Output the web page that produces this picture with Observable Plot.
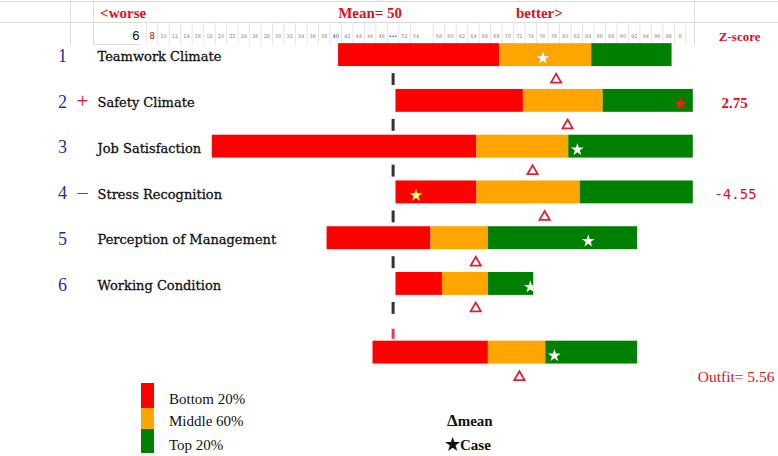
<!DOCTYPE html>
<html>
<head>
<meta charset="utf-8">
<script src="https://cdn.jsdelivr.net/npm/d3@7"></script>
<script src="https://cdn.jsdelivr.net/npm/@observablehq/plot@0.6"></script>
<style>
  body { margin: 0; background: #fff; }
  #wrap { position: relative; width: 778px; height: 456px; overflow: hidden; background: #fff; }
  #chart { position: absolute; left: 0; top: 0; }
  .gl { position: absolute; background: #dcdcdc; }
  #legend { position: absolute; left: 0; top: 383px; width: 778px; height: 73px; font-family: "Liberation Serif", serif; color: #111; }
  #legend .sw { position: absolute; left: 141px; width: 13px; }
  #legend .lb { position: absolute; left: 169px; font-size: 15px; line-height: 18px; }
  #legend .sym { position: absolute; font-size: 15px; font-weight: bold; line-height: 18px; }
</style>
</head>
<body>
<div id="wrap">
  <div id="chart"></div>
  <div class="gl" style="left:0;top:1px;width:778px;height:1px"></div>
  <div class="gl" style="left:0;top:22px;width:778px;height:1px"></div>
  <div class="gl" style="left:70px;top:0;width:1px;height:45px"></div>
  <div class="gl" style="left:93px;top:0;width:1px;height:45px"></div>
  <div class="gl" style="left:694px;top:0;width:1px;height:45px"></div>
  <div class="gl" style="left:93px;top:44px;width:47px;height:1px"></div>
  <div id="legend"></div>
</div>
<script>
// ---------------- data ----------------
const categories = ["Teamwork Climate", "Safety Climate", "Job Satisfaction",
  "Stress Recognition", "Perception of Management", "Working Condition"];
const flags      = ["", "+", "", "\u2013", "", ""];
const barStart   = [40.5, 50.5, 18.5, 50.5, 38.5, 50.5];
const bottom20   = [68.6, 72.7, 64.6, 64.6, 56.6, 58.6];
const top20      = [84.6, 86.6, 80.6, 82.6, 66.6, 66.6];
const barEnd     = [98.6, 102.3, 102.3, 102.3, 92.6, 74.5];
const caseScore  = [76.1, 100.1, 82.1, 54.0, 84.0, 73.9];
const meanScore  = [78.4, 80.4, 74.3, 76.4, 64.4, 64.4];
const zScores    = [null, 2.75, null, -4.55, null, null];

const overallBar  = [46.5, 66.6, 76.6, 92.6];
const overallCase = 78.1;
const overallMean = 72.0;
const outfit      = 5.56;
const referenceMean = 50;

const tickValues = [6, 8, 10, 12, 14, 16, 18, 20, 22, 24, 26, 28, 30, 32, 34, 36, 38, 40,
  42, 44, 46, 48, 50, 52, 54, 58, 60, 62, 64, 66, 68, 70, 72, 74, 76, 78, 80, 82, 84,
  86, 88, 90, 92, 94, 96, 98, 100];
const tickLabels = tickValues.map(v => v === 50 ? "\u2022\u2022\u2022" : v === 100 ? "0" : String(v));

const segmentNames = ["Bottom 20%", "Middle 60%", "Top 20%"];
const segmentColors = ["#ff0000", "#ffa500", "#008000"];

// ---------------- layout constants ----------------
const W = 778, H = 395;
const SUMMARY_ROW = categories.length + 1.5;
const GAP = 0.535;        // offset (rows) of the mean marker below a bar
const HALF = 0.25;        // half bar thickness (rows)
const red = "#e0101a";

// ---------------- derived tables ----------------
const rows = categories.map((c, i) => ({
  row: i + 1, name: c, flag: flags[i],
  cuts: [barStart[i], bottom20[i], top20[i], barEnd[i]],
  caseScore: caseScore[i], mean: meanScore[i], z: zScores[i]
}));
const summary = {row: SUMMARY_ROW, flag: "", cuts: overallBar, caseScore: overallCase, mean: overallMean, z: null};
const allRows = [...rows, summary];

const segments = allRows.flatMap(r => segmentNames.map((s, k) => ({
  row: r.row, seg: s, x1: r.cuts[k], x2: r.cuts[k + 1]
})));

const starColor = f => f === "+" ? "#ff1a1a" : f === "\u2013" ? "#ffff70" : "#ffffff";
const tickColor = v => v === 40 ? "#3030c0" : v === 100 ? "#20a020" : v === 50 ? "#222" : "#8a8a8a";

const cellEdges = [...tickValues.slice(1).map(v => v - 1), 101];
const smallTicks = tickValues.filter(v => v > 8);

const chart = Plot.plot({
  width: W, height: H,
  marginTop: 0, marginBottom: 0, marginLeft: 0, marginRight: 0,
  x: {domain: [0, 100], range: [105.6, 679.6], axis: null},
  y: {domain: [1, 6], range: [54.6, 283.45], axis: null},
  color: {domain: segmentNames, range: segmentColors},
  style: {background: "transparent"},
  marks: [
    // tick-row cell separators
    Plot.ruleX(cellEdges, {x: d => d, insetTop: 22, insetBottom: H - 45, stroke: "#e4e4e4", strokeWidth: 1}),
    // header texts
    Plot.text(["<worse"], {x: () => 0, frameAnchor: "top", dy: 13, dx: -6, textAnchor: "start", lineAnchor: "middle",
      fill: red, fontSize: 15, fontWeight: "bold", fontFamily: "Liberation Serif, serif"}),
    Plot.text(["Mean= " + referenceMean], {x: () => referenceMean, frameAnchor: "top", dy: 13, dx: 9, textAnchor: "end", lineAnchor: "middle",
      fill: red, fontSize: 15, fontWeight: "bold", fontFamily: "Liberation Serif, serif"}),
    Plot.text(["better>"], {x: () => 70, frameAnchor: "top", dy: 13, dx: 8, textAnchor: "start", lineAnchor: "middle",
      fill: red, fontSize: 15, fontWeight: "bold", fontFamily: "Liberation Serif, serif"}),
    Plot.text(["Z-score"], {frameAnchor: "top-right", dx: -18, dy: 36, textAnchor: "end", lineAnchor: "middle",
      fill: red, fontSize: 13, fontWeight: "bold", fontFamily: "Liberation Serif, serif"}),
    // tick labels row
    Plot.text(smallTicks, {x: d => d, text: d => tickLabels[tickValues.indexOf(d)],
      frameAnchor: "top", dy: 36, lineAnchor: "middle", fontSize: 5, fill: tickColor,
      fontFamily: "DejaVu Sans, sans-serif"}),
    Plot.text([6], {x: d => d, text: d => tickLabels[tickValues.indexOf(d)], frameAnchor: "top", dy: 35, dx: -1,
      lineAnchor: "middle", textAnchor: "end", fontSize: 13, fill: "#111", fontFamily: "Liberation Sans, sans-serif"}),
    Plot.text([8], {x: d => d, text: d => tickLabels[tickValues.indexOf(d)], frameAnchor: "top", dy: 36,
      lineAnchor: "middle", fontSize: 9, fill: "#e0101a", fontFamily: "DejaVu Sans, sans-serif"}),
    // row labels
    Plot.text(rows, {y: "row", text: d => String(d.row), frameAnchor: "left", dx: 62, dy: 1, textAnchor: "middle",
      fill: "#1f2fb0", fontSize: 18, fontFamily: "Liberation Serif, serif"}),
    Plot.text(rows.filter(d => d.flag), {y: "row", text: "flag", frameAnchor: "left", dx: 82, textAnchor: "middle",
      fill: "#ee1111", fontSize: 21, fontFamily: "Liberation Serif, serif"}),
    Plot.text(rows, {y: "row", text: "name", frameAnchor: "left", dx: 97, dy: 2, textAnchor: "start",
      fill: "#111", stroke: "#111", strokeWidth: 0.3, fontSize: 13, fontFamily: "DejaVu Serif, serif"}),
    // bars
    Plot.rect(segments, {x1: "x1", x2: "x2", y1: d => d.row - HALF, y2: d => d.row + HALF, fill: "seg"}),
    // reference mean ticks
    Plot.ruleX(rows, {x: () => referenceMean, y1: d => d.row + GAP - 0.13, y2: d => d.row + GAP + 0.13,
      stroke: "#333", strokeWidth: 3}),
    Plot.ruleX([summary], {x: () => referenceMean, y1: d => d.row - 0.51, y2: d => d.row - 0.29,
      stroke: "#e04050", strokeWidth: 3}),
    // mean triangles
    Plot.dot(allRows, {x: "mean", y: d => d.row + GAP, symbol: "triangle", r: 3.8,
      stroke: "#e02030", strokeWidth: 1.8, fill: "white"}),
    // case stars
    Plot.dot(allRows, {x: "caseScore", y: "row", dy: 3, symbol: "star", r: 4, fill: d => starColor(d.flag), stroke: "none"}),
    // z-scores
    Plot.text(rows.filter(d => d.z != null && d.z > 0), {y: "row", dy: 2, text: d => d.z.toFixed(2), frameAnchor: "right",
      dx: -44, textAnchor: "middle", fill: red, fontSize: 15, fontWeight: "bold", fontFamily: "Liberation Serif, serif"}),
    Plot.text(rows.filter(d => d.z != null && d.z < 0), {y: "row", dy: 2, text: d => d.z.toFixed(2), frameAnchor: "right",
      dx: -43, textAnchor: "middle", fill: red, fontSize: 14, fontFamily: "DejaVu Sans Mono, monospace"}),
    Plot.text([summary], {y: d => d.row + GAP, text: () => "Outfit= " + outfit.toFixed(2), frameAnchor: "right",
      dx: -4, textAnchor: "end", fill: red, fontSize: 15.5, fontFamily: "Liberation Serif, serif"})
  ]
});
document.getElementById("chart").appendChild(chart);

// ---------------- legend ----------------
const legend = document.getElementById("legend");
const swTops = [0, 25, 46], swHeights = [25, 21, 24], lbTops = [7, 29, 53];
segmentNames.forEach((s, i) => {
  const sw = document.createElement("div");
  sw.className = "sw"; sw.style.top = swTops[i] + "px"; sw.style.height = swHeights[i] + "px";
  sw.style.background = segmentColors[i];
  legend.appendChild(sw);
  const lb = document.createElement("div");
  lb.className = "lb"; lb.style.top = lbTops[i] + "px"; lb.textContent = s;
  legend.appendChild(lb);
});
const m = document.createElement("div");
m.className = "sym"; m.style.left = "447px"; m.style.top = "29px";
m.innerHTML = "<span style='font-size:17px'>\u0394</span>mean";
legend.appendChild(m);
const c = document.createElement("div");
c.className = "sym"; c.style.left = "445px"; c.style.top = "53px";
c.innerHTML = "<span style='font-size:17px'>\u2605</span>Case";
legend.appendChild(c);
</script>
</body>
</html>
